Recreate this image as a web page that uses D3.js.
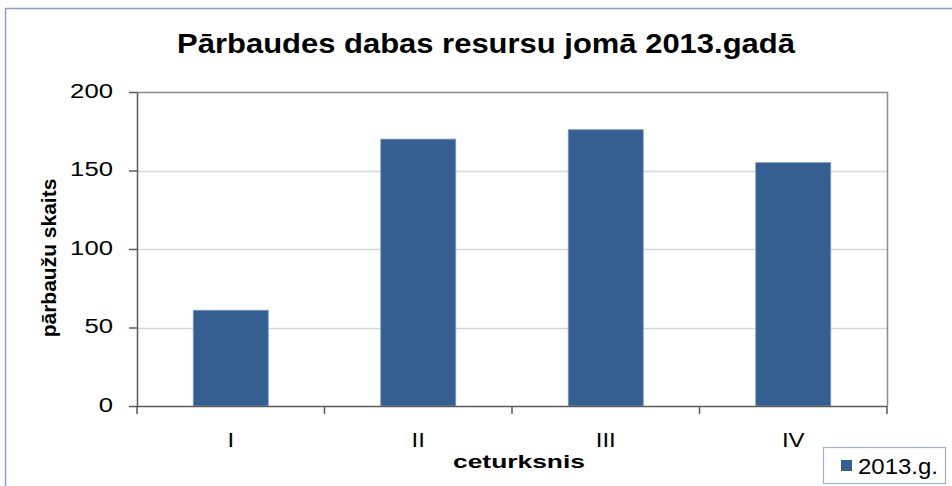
<!DOCTYPE html>
<html>
<head>
<meta charset="utf-8">
<script src="https://cdn.jsdelivr.net/npm/d3@7"></script>
<style>
  body { margin: 0; background: #fff; }
  text { font-family: "Liberation Sans", Arial, sans-serif; fill: #000; }
</style>
</head>
<body>
<div id="chart"></div>
<script>
// data
const categories = ["I", "II", "III", "IV"];
const values2013 = [61, 170, 176, 155];
const yTicks = [0, 50, 100, 150, 200];
const seriesName = "2013.g.";

const width = 952, height = 486;
const plot = { left: 137, top: 92, right: 887, bottom: 406 };

let svg = d3.select("#chart")
    .append("svg")
    .attr("width", width)
    .attr("height", height);

// outer chart frame
svg.append("rect")
    .attr("x", 5.5).attr("y", 8.5)
    .attr("width", 960).attr("height", 500)
    .attr("fill", "none")
    .attr("stroke", "#86a2cc")
    .attr("stroke-width", 1.5);

let x = d3.scaleBand()
    .domain(categories)
    .range([plot.left, plot.right])
    .paddingInner(0.6)
    .paddingOuter(0.3);

let xStep = d3.scaleLinear().domain([0, categories.length]).range([plot.left, plot.right]);

let y = d3.scaleLinear()
    .domain([0, 200])
    .range([plot.bottom, plot.top]);

// horizontal stretch helper: text in the picture is drawn wider than tall
function placeText(sel, px, py, targetW, anchor) {
    let len = sel.node().getComputedTextLength();
    let sx = targetW ? targetW / len : 1;
    sel.attr("text-anchor", anchor || "middle")
        .attr("transform", `translate(${px},${py}) scale(${sx},1)`);
    return sel;
}

// gridlines
svg.append("g")
    .selectAll("line")
    .data(yTicks.filter(d => d > 0 && d < 200))
    .enter()
    .append("line")
    .attr("x1", plot.left).attr("x2", plot.right)
    .attr("y1", d => Math.round(y(d)) + 0.5)
    .attr("y2", d => Math.round(y(d)) + 0.5)
    .attr("stroke", "#d6d6d6")
    .attr("stroke-width", 1.5);

// plot area top/right border
svg.append("path")
    .attr("d", `M${plot.left},${plot.top + 0.5}H${plot.right + 0.5}V${plot.bottom}`)
    .attr("fill", "none")
    .attr("stroke", "#8c8c8c")
    .attr("stroke-width", 1.5);

// bars
svg.append("g")
    .selectAll("rect")
    .data(values2013)
    .enter()
    .append("rect")
    .attr("x", (d, i) => x(categories[i]))
    .attr("y", d => y(d))
    .attr("width", x.bandwidth())
    .attr("height", d => y(0) - y(d))
    .attr("fill", "#365f91")
    .attr("stroke", "#7d9cc4")
    .attr("stroke-width", 0.8);

// y axis
let yAxis = svg.append("g")
    .attr("transform", `translate(${plot.left},0)`)
    .call(d3.axisLeft(y).tickValues(yTicks).tickSize(8).tickSizeOuter(0).tickFormat(""));
yAxis.selectAll("line, path").attr("stroke", "#5a5a5a").attr("stroke-width", 1.5);

yTicks.forEach(function(t) {
    let lbl = svg.append("text")
        .style("font-size", "21px")
        .attr("dy", "0.32em")
        .text(t);
    placeText(lbl, 113, y(t) - 1, (String(t).length) * 14.3, "end");
});

// x axis
svg.append("line")
    .attr("x1", plot.left).attr("x2", plot.right)
    .attr("y1", plot.bottom + 0.5).attr("y2", plot.bottom + 0.5)
    .attr("stroke", "#5a5a5a").attr("stroke-width", 1.5);
svg.append("g")
    .selectAll("line")
    .data(d3.range(categories.length + 1))
    .enter()
    .append("line")
    .attr("x1", d => xStep(d)).attr("x2", d => xStep(d))
    .attr("y1", plot.bottom).attr("y2", plot.bottom + 8)
    .attr("stroke", "#5a5a5a").attr("stroke-width", 1.5);

categories.forEach(function(c) {
    let lbl = svg.append("text")
        .style("font-size", "20px")
        .text(c);
    placeText(lbl, x(c) + x.bandwidth() / 2, 447, null, "middle")
        .attr("transform", `translate(${x(c) + x.bandwidth() / 2},447) scale(1.2,1)`);
});

// titles
let title = svg.append("text")
    .style("font-size", "28px")
    .style("font-weight", "bold")
    .text("Pārbaudes dabas resursu jomā 2013.gadā");
placeText(title, 486, 53, 618, "middle");

let xTitle = svg.append("text")
    .style("font-size", "19px")
    .style("font-weight", "bold")
    .text("ceturksnis");
placeText(xTitle, 519, 468, 132, "middle");

svg.append("text")
    .attr("transform", "translate(56,258) rotate(-90)")
    .attr("text-anchor", "middle")
    .style("font-size", "21px")
    .style("font-weight", "bold")
    .text("pārbaužu skaits");

// legend
let legend = svg.append("g");
legend.append("rect")
    .attr("x", 823.5).attr("y", 447.5)
    .attr("width", 122).attr("height", 36)
    .attr("fill", "#fff")
    .attr("stroke", "#9fb2cf")
    .attr("stroke-width", 1.2);
legend.append("rect")
    .attr("x", 841).attr("y", 460)
    .attr("width", 11).attr("height", 11)
    .attr("fill", "#365f91");
let legTxt = legend.append("text")
    .style("font-size", "22px")
    .text(seriesName);
placeText(legTxt, 858, 474, 80, "start");
</script>
</body>
</html>
